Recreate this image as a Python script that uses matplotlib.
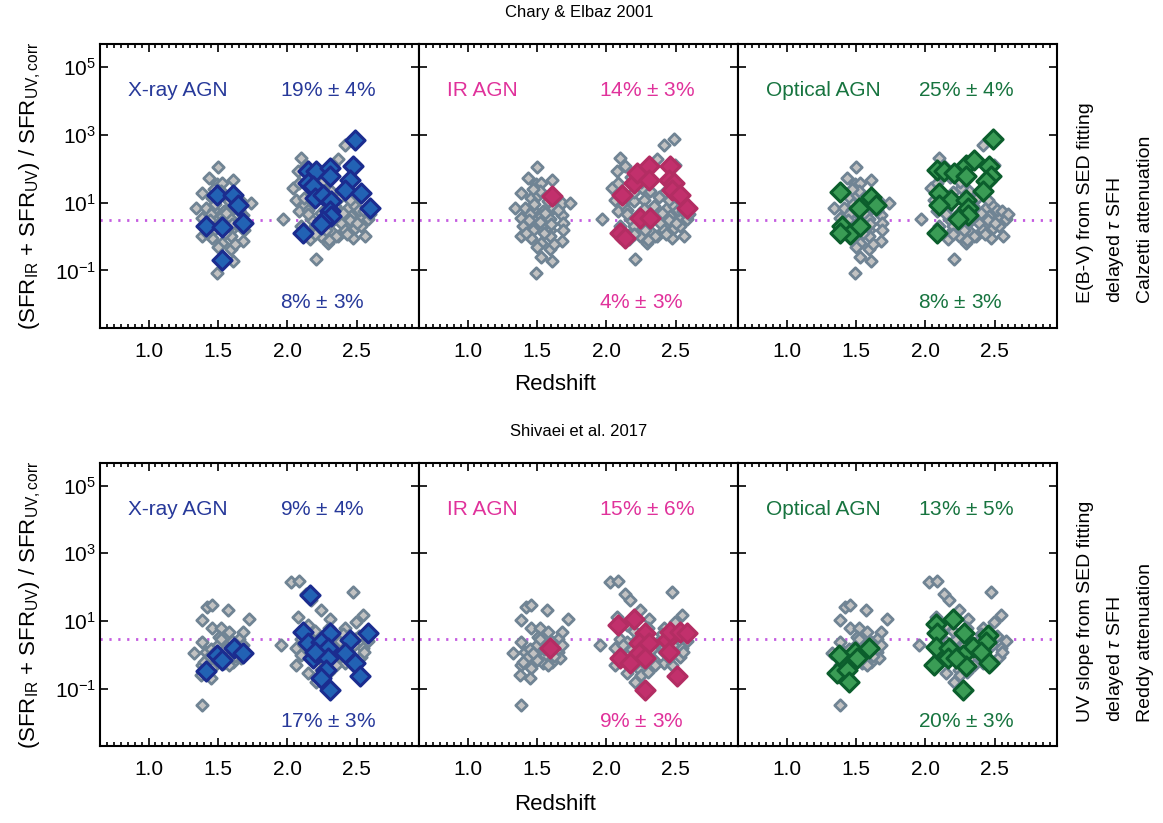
import numpy as np
import matplotlib
matplotlib.use('Agg')
import matplotlib.pyplot as plt
from matplotlib.ticker import MultipleLocator, FixedLocator

plt.rcParams['font.family'] = ['Liberation Sans', 'DejaVu Sans']
plt.rcParams['mathtext.fontset'] = 'custom'
plt.rcParams['mathtext.rm'] = 'Liberation Sans'
plt.rcParams['mathtext.it'] = 'Liberation Sans:italic'

# ---- data ----
# full sample, top row (Chary & Elbaz)
ce_all_z = [1.502, 1.437, 1.606, 1.497, 1.533, 1.389, 1.461, 1.509, 1.678, 1.739, 1.341, 1.413,
            1.473, 1.546, 1.618, 1.389, 1.473, 1.533, 1.594, 1.678, 1.690, 1.401, 1.473, 1.533,
            1.594, 1.690, 1.389, 1.461, 1.594, 1.533, 1.678, 1.594, 1.533, 1.606, 1.497,
            1.45, 1.52, 1.56, 1.48, 1.60, 1.42, 1.55, 1.65, 1.50, 1.62, 1.44, 1.58, 1.52, 1.47,
            2.414, 2.486, 2.100, 2.366, 2.137, 2.076, 2.498, 2.330, 2.040, 2.088, 2.317, 2.414,
            2.257, 1.968, 2.064, 2.124, 2.088, 2.149, 2.197, 2.269, 2.342, 2.438, 2.486, 2.173,
            2.305, 2.390, 2.462, 2.534, 2.583, 2.197, 2.317, 2.414, 2.486, 2.534, 2.558, 2.161,
            2.293, 2.474, 2.209, 2.245, 2.366, 2.100, 2.245, 2.366,
            2.15, 2.20, 2.27, 2.33, 2.40, 2.45, 2.50, 2.52, 2.20, 2.28, 2.35, 2.43, 2.12, 2.20,
            2.38, 2.45, 2.25, 2.18, 2.30, 2.55, 2.60]
ce_all_r = [112, 53, 47, 34, 38, 19, 13.7, 17, 9.8, 9.4, 6.7, 7.0,
            6.2, 5.6, 7.0, 3.5, 3.2, 4.0, 3.2, 4.4, 2.5, 2.0, 1.6, 2.0,
            1.6, 1.6, 1.0, 0.92, 1.0, 0.65, 0.73, 0.42, 0.24, 0.19, 0.086,
            4.5, 2.6, 5.0, 9.0, 2.4, 1.3, 1.3, 6.0, 0.5, 0.6, 3.0, 11, 22, 25,
            505, 740, 205, 192, 117, 83, 131, 131, 27, 38, 21.5, 19.2,
            27, 3.3, 12.2, 8.7, 5.6, 6.2, 10.9, 12.2, 7.8, 7.0, 7.8, 3.2,
            2.5, 2.5, 4.0, 4.0, 3.2, 1.6, 1.44, 1.6, 1.8, 2.0, 1.0, 0.82,
            0.65, 0.92, 0.21, 5.0, 4.4, 2.0, 1.0, 1.0,
            4.5, 2.0, 6.5, 3.5, 5.0, 3.0, 2.5, 6.0, 1.2, 1.5, 1.0, 1.2, 14, 20,
            15, 12, 40, 55, 0.8, 5.5, 4.5]

ce_xray_z = [1.497, 1.606, 1.642, 1.413, 1.533, 1.678, 1.533,
             2.486, 2.149, 2.209, 2.305, 2.305, 2.474, 2.450, 2.149, 2.185, 2.414, 2.534,
             2.197, 2.257, 2.317, 2.595, 2.305, 2.317, 2.257, 2.245, 2.112]
ce_xray_r = [17, 16.4, 8.7, 2.0, 1.9, 2.5, 0.20,
             700, 83, 83, 104, 59, 117, 47, 38, 30, 24, 19,
             13.7, 17, 11, 7.0, 5.6, 4.0, 2.8, 2.3, 1.23]

ce_ir_z = [1.606, 2.112, 2.197, 2.221, 2.305, 2.305, 2.462, 2.450, 2.486, 2.474, 2.534,
           2.583, 2.245, 2.317, 2.100, 2.137]
ce_ir_r = [15.4, 17, 38, 74, 117, 47, 117, 47, 38, 24, 17,
           7.0, 3.5, 3.5, 1.3, 0.9]

ce_opt_z = [1.389, 1.521, 1.606, 1.642, 1.401, 1.461, 1.533, 1.389,
            2.486, 2.088, 2.137, 2.209, 2.293, 2.354, 2.293, 2.462, 2.474, 2.438, 2.414,
            2.100, 2.185, 2.100, 2.293, 2.305, 2.305, 2.233, 2.088]
ce_opt_r = [20, 7.0, 15, 8.7, 2.0, 1.15, 2.0, 1.3,
            740, 93, 83, 74, 131, 183, 59, 117, 59, 42, 21.5,
            19, 12.2, 8.7, 12.2, 7.0, 4.4, 3.2, 1.3]

# full sample, bottom row (Shivaei et al.)
sh_all_z = [1.425, 1.461, 1.570, 1.726, 1.389, 1.461, 1.521, 1.582, 1.678, 1.509, 1.654, 1.389,
            1.328, 1.413, 1.497, 1.473, 1.558, 1.654, 1.666, 1.389, 1.461, 1.546, 1.606, 1.377,
            1.449, 1.389,
            1.45, 1.50, 1.55, 1.60, 1.50, 1.58, 1.43, 1.64, 1.52, 1.47, 1.62, 1.40, 1.68,
            2.028, 2.088, 2.137, 2.173, 2.474, 2.245, 2.076, 2.305, 2.547, 2.498, 2.149, 1.956,
            2.100, 2.149, 2.064, 2.124, 2.342, 2.414, 2.486, 2.547, 2.534, 2.064, 2.149, 2.209,
            2.342, 2.414, 2.474, 2.245, 2.305, 2.197, 2.269,
            2.12, 2.18, 2.22, 2.28, 2.33, 2.38, 2.42, 2.48, 2.52, 2.15, 2.25, 2.35, 2.45, 2.20,
            2.30, 2.40, 2.10, 2.55, 2.58, 2.25, 2.30]
sh_all_r = [26, 29, 21, 11.7, 10.5, 6.0, 6.0, 4.8, 4.8, 3.4, 3.0, 2.4,
            1.1, 1.23, 1.55, 0.88, 0.98, 1.23, 0.79, 0.50, 0.40, 0.56, 0.63, 0.25,
            0.20, 0.033,
            1.5, 2.0, 1.5, 2.5, 0.7, 0.5, 0.8, 1.8, 3.0, 1.1, 0.9, 0.6, 2.0,
            140, 157, 64, 41, 71, 21, 13, 11.7, 14.7, 9.4, 7.5, 1.94,
            3.0, 2.4, 1.55, 1.23, 1.73, 6.0, 3.0, 1.55, 0.88, 0.50, 0.28, 0.16,
            0.70, 0.56, 0.50, 0.36, 0.45, 0.88, 1.1,
            2.0, 1.4, 3.0, 2.0, 1.5, 2.5, 1.2, 2.0, 3.5, 0.9, 0.7, 0.5, 0.8, 5.0,
            6.0, 4.0, 1.0, 1.2, 2.5, 0.25, 0.3]

sh_xray_z = [1.413, 1.497, 1.533, 1.618, 1.678,
             2.161, 2.112, 2.583, 2.305, 2.149, 2.245, 2.450, 2.293, 2.185, 2.293, 2.414,
             2.486, 2.281, 2.245, 2.522, 2.305, 2.197]
sh_xray_r = [0.32, 0.98, 0.70, 1.55, 1.1,
             57, 4.8, 4.3, 4.3, 2.2, 2.4, 2.7, 1.55, 0.79, 0.79, 1.1,
             0.56, 0.36, 0.20, 0.23, 0.088, 1.23]

sh_ir_z = [1.594, 2.088, 2.197, 2.281, 2.233, 2.305, 2.438, 2.462, 2.534, 2.583, 2.450,
           2.233, 2.281, 2.100, 2.173, 2.510, 2.281]
sh_ir_r = [1.55, 7.5, 11.7, 4.3, 2.2, 2.2, 2.7, 4.8, 4.8, 4.3, 1.23,
           1.1, 0.79, 0.79, 0.56, 0.23, 0.092]

sh_opt_z = [1.377, 1.497, 1.594, 1.365, 1.437, 1.449, 1.509,
            2.197, 2.076, 2.088, 2.281, 2.450, 2.438, 2.076, 2.173, 2.342, 2.402, 2.161,
            2.269, 2.293, 2.064, 2.462, 2.269, 2.221]
sh_opt_r = [0.98, 1.23, 1.55, 0.29, 0.36, 0.16, 0.79,
            11.7, 8.4, 4.3, 4.3, 3.8, 2.4, 1.73, 1.55, 1.73, 1.23, 0.79,
            0.98, 0.45, 0.50, 0.56, 0.092, 0.79]

agn_names = ['X-ray AGN', 'IR AGN', 'Optical AGN']
ce_high = ['19%', '14%', '25%']
ce_high_err = ['4%', '3%', '4%']
ce_low = ['8%', '4%', '8%']
ce_low_err = ['3%', '3%', '3%']
sh_high = ['9%', '15%', '13%']
sh_high_err = ['4%', '6%', '5%']
sh_low = ['17%', '9%', '20%']
sh_low_err = ['3%', '3%', '3%']
ratio_line = 3.0

face_cols = ['#2262b4', '#c2306c', '#3a9c55']
edge_cols = ['#1b2c8f', '#b32d63', '#0b5e2c']
text_cols = ['#27399a', '#e0329b', '#17743f']

rows = [
    dict(all_z=ce_all_z, all_r=ce_all_r,
         agn=[(ce_xray_z, ce_xray_r), (ce_ir_z, ce_ir_r), (ce_opt_z, ce_opt_r)],
         hi=ce_high, hi_e=ce_high_err, lo=ce_low, lo_e=ce_low_err,
         title='Chary & Elbaz 2001',
         side=['E(B-V) from SED fitting', r'delayed $\tau$ SFH', 'Calzetti attenuation']),
    dict(all_z=sh_all_z, all_r=sh_all_r,
         agn=[(sh_xray_z, sh_xray_r), (sh_ir_z, sh_ir_r), (sh_opt_z, sh_opt_r)],
         hi=sh_high, hi_e=sh_high_err, lo=sh_low, lo_e=sh_low_err,
         title='Shivaei et al. 2017',
         side=['UV slope from SED fitting', r'delayed $\tau$ SFH', 'Reddy attenuation']),
]

fig = plt.figure(figsize=(11.63, 8.23), dpi=100)
W, H = 1163., 823.
panel_w = 319. / W
row_boxes = [(1 - 328. / H, 284. / H), (1 - 746. / H, 283. / H)]
title_y = [1 - 12. / H, 1 - 432. / H]
xlab_y = [1 - 385. / H, 1 - 805. / H]
side_bottom = [1 - 303. / H, 1 - 722. / H]

for ri, row in enumerate(rows):
    y0, h = row_boxes[ri]
    axes = []
    for ci in range(3):
        ax = fig.add_axes([100. / W + ci * panel_w, y0, panel_w, h],
                          sharey=axes[0] if axes else None)
        axes.append(ax)
        ax.set_yscale('log')
        ax.set_xlim(0.65, 2.95)
        ax.set_ylim(2e-3, 4.7e5)
        ax.axhline(ratio_line, color='#c45be0', lw=2.0, ls=(0, (0.8, 2.4)), zorder=1)
        ax.scatter(row['all_z'], row['all_r'], marker='D', s=34, facecolor='#c2c2c2',
                   edgecolor='#708494', linewidths=2.0, zorder=2)
        az, ar = row['agn'][ci]
        ax.scatter(az, ar, marker='D', s=95, facecolor=face_cols[ci],
                   edgecolor=edge_cols[ci], linewidths=2.2, zorder=3)

        ax.text(0.85, 10 ** 4.3, agn_names[ci], color=text_cols[ci], fontsize=15,
                ha='left', va='center')
        ax.text(1.95, 10 ** 4.3, row['hi'][ci] + r' $\pm$ ' + row['hi_e'][ci],
                color=text_cols[ci], fontsize=15, ha='left', va='center')
        ax.text(1.95, 10 ** -1.96, row['lo'][ci] + r' $\pm$ ' + row['lo_e'][ci],
                color=text_cols[ci], fontsize=15, ha='left', va='center')

        ax.xaxis.set_major_locator(MultipleLocator(0.5))
        ax.xaxis.set_minor_locator(MultipleLocator(0.05))
        ax.set_xticks([1.0, 1.5, 2.0, 2.5])
        ax.set_xticklabels(['1.0', '1.5', '2.0', '2.5'])
        ax.yaxis.set_major_locator(FixedLocator([1e-1, 1e1, 1e3, 1e5]))
        ax.yaxis.set_minor_locator(FixedLocator([]))
        ax.tick_params(which='both', direction='in', top=True, right=True, width=1.2)
        ax.tick_params(which='major', length=6, labelsize=15)
        ax.tick_params(axis='x', which='major', pad=10)
        ax.tick_params(axis='y', which='major', pad=3)
        ax.tick_params(which='minor', length=3)
        for sp in ax.spines.values():
            sp.set_linewidth(1.5)
        if ci > 0:
            ax.tick_params(labelleft=False)

    axes[0].set_ylabel(r'(SFR$_{\rm IR}$ + SFR$_{\rm UV}$) / SFR$_{\rm UV,corr}$',
                       fontsize=16, labelpad=8)
    fig.text(579. / W, title_y[ri], row['title'], fontsize=12, ha='center', va='center')
    fig.text(555. / W, xlab_y[ri], 'Redshift', fontsize=16, ha='center', va='center')
    for k, line in enumerate(row['side']):
        fig.text((1085. + 30 * k) / W, side_bottom[ri], line, fontsize=14, rotation=90,
                 ha='center', va='bottom')

fig.savefig('out.png', dpi=100)
